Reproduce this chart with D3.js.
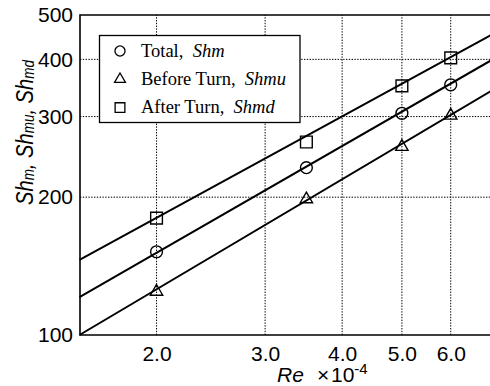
<!DOCTYPE html>
<html>
<head>
<meta charset="utf-8">
<script src="https://cdn.jsdelivr.net/npm/d3@7"></script>
<style>
  html, body { margin: 0; padding: 0; background: #fff; }
  svg { display: block; }
</style>
</head>
<body>
<svg id="chart" width="490" height="386"></svg>
<script>
// Reynolds number (x 10^-4) at each measurement
const reValues = [2.0, 3.5, 5.0, 6.0];
// Mean Sherwood numbers
const shTotal = [152, 232, 305, 352];   // Total, Shm
const shBefore = [125, 199, 259, 303];  // Before Turn, Shmu
const shAfter = [180, 264, 350, 403];   // After Turn, Shmd

// Power-law correlation lines, given at the ends of the Re range
const fitRe = [1.5, 7.0];
const fitTotal = [121, 399];
const fitBefore = [100, 342];
const fitAfter = [146, 453];

const xTicks = [2.0, 3.0, 4.0, 5.0, 6.0];
const yTicks = [100, 200, 300, 400, 500];

const svg = d3.select("#chart");
const plotLeft = 80, plotRight = 492, plotTop = 15, plotBottom = 335;

const x = d3.scaleLog().domain([1.5, 7]).range([79.5, 492]);
const y = d3.scaleLog().domain([100, 500]).range([plotBottom, plotTop]);

const sansFont = "'Liberation Sans', Arial, Helvetica, sans-serif";
const serifFont = "'Liberation Serif', 'Times New Roman', serif";

// dotted grid
const grid = svg.append("g");
grid.selectAll("line.gx").data(xTicks).join("line")
  .attr("x1", d => x(d)).attr("x2", d => x(d))
  .attr("y1", plotBottom).attr("y2", plotTop)
  .attr("stroke", "#000").attr("stroke-width", 1)
  .attr("stroke-dasharray", "1.4,1.4");
grid.selectAll("line.gy").data(yTicks.slice(1, -1)).join("line")
  .attr("x1", plotLeft).attr("x2", plotRight)
  .attr("y1", d => y(d)).attr("y2", d => y(d))
  .attr("stroke", "#000").attr("stroke-width", 1)
  .attr("stroke-dasharray", "1.4,1.4");

// axes
const xAxis = d3.axisBottom(x).tickValues(xTicks).tickSize(0).tickPadding(11)
  .tickFormat(d3.format(".1f"));
const gx = svg.append("g").attr("transform", `translate(0,${plotBottom})`).call(xAxis);
gx.select(".domain").remove();
gx.selectAll("text").attr("font-family", sansFont).attr("font-size", 21).attr("fill", "#000");

const yAxis = d3.axisLeft(y).tickValues(yTicks).tickSize(0).tickPadding(7)
  .tickFormat(d3.format("d"));
const gy = svg.append("g").attr("transform", `translate(${plotLeft},0)`).call(yAxis);
gy.select(".domain").remove();
gy.selectAll("text").attr("font-family", sansFont).attr("font-size", 21).attr("fill", "#000");

// frame
svg.append("path")
  .attr("d", `M${plotRight},${plotTop}H${plotLeft}V${plotBottom}H${plotRight}`)
  .attr("fill", "none").attr("stroke", "#000").attr("stroke-width", 1.6);

// correlation lines
const lineGen = d3.line().x(d => x(d[0])).y(d => y(d[1]));
[fitAfter, fitTotal, fitBefore].forEach(fit => {
  svg.append("path")
    .datum(fitRe.map((r, i) => [r, fit[i]]))
    .attr("d", lineGen)
    .attr("fill", "none").attr("stroke", "#000").attr("stroke-width", 2);
});

// markers
const series = [
  { values: shTotal, type: d3.symbolCircle, size: 110, dy: 0 },
  { values: shBefore, type: d3.symbolTriangle, size: 66, dy: 1 },
  { values: shAfter, type: d3.symbolSquare, size: 138, dy: 0 }
];
series.forEach(s => {
  svg.append("g").selectAll("path").data(reValues.map((r, i) => [r, s.values[i]])).join("path")
    .attr("transform", d => `translate(${x(d[0])},${y(d[1]) + s.dy})`)
    .attr("d", d3.symbol().type(s.type).size(s.size))
    .attr("fill", "none").attr("stroke", "#000").attr("stroke-width", 1.4);
});

// legend
const legend = svg.append("g");
legend.append("rect")
  .attr("x", 99.5).attr("y", 35.5).attr("width", 200.5).attr("height", 87)
  .attr("fill", "#fff").attr("stroke", "#000").attr("stroke-width", 1.3);
const legendItems = [
  { type: d3.symbolCircle, size: 80, label: "Total,  ", name: "Shm" },
  { type: d3.symbolTriangle, size: 52, label: "Before Turn,  ", name: "Shmu" },
  { type: d3.symbolSquare, size: 95, label: "After Turn,  ", name: "Shmd" }
];
legendItems.forEach((it, i) => {
  const cy = 51 + i * 28.3;
  legend.append("path")
    .attr("transform", `translate(120,${cy})`)
    .attr("d", d3.symbol().type(it.type).size(it.size))
    .attr("fill", "none").attr("stroke", "#000").attr("stroke-width", 1.3);
  const t = legend.append("text")
    .attr("x", 141).attr("y", cy + 5.7)
    .attr("font-family", serifFont).attr("font-size", 18.5)
    .attr("xml:space", "preserve");
  t.append("tspan").text(it.label);
  t.append("tspan").attr("font-style", "italic").text(it.name);
});

// x axis title
const xt = svg.append("text")
  .attr("y", 382)
  .attr("font-family", sansFont).attr("font-size", 21);
xt.append("tspan").attr("x", 277).attr("font-style", "italic").text("Re");
xt.append("tspan").attr("x", 317).text("\u00d7");
xt.append("tspan").attr("x", 331).text("10");
xt.append("tspan").attr("font-size", 15).attr("dy", -8).text("-4");

// y axis title
const yt = svg.append("text")
  .attr("transform", "translate(33,205) rotate(-90) scale(0.84,1)")
  .attr("font-family", sansFont).attr("font-size", 24).attr("font-style", "italic");
[["Sh", "m", ", "], ["Sh", "mu", ", "], ["Sh", "md", ""]].forEach(([base, sub, sep]) => {
  yt.append("tspan").text(base);
  yt.append("tspan").attr("font-size", 16).attr("dy", 1).text(sub);
  if (sep) yt.append("tspan").attr("dy", -1).text(sep);
});
</script>
</body>
</html>
